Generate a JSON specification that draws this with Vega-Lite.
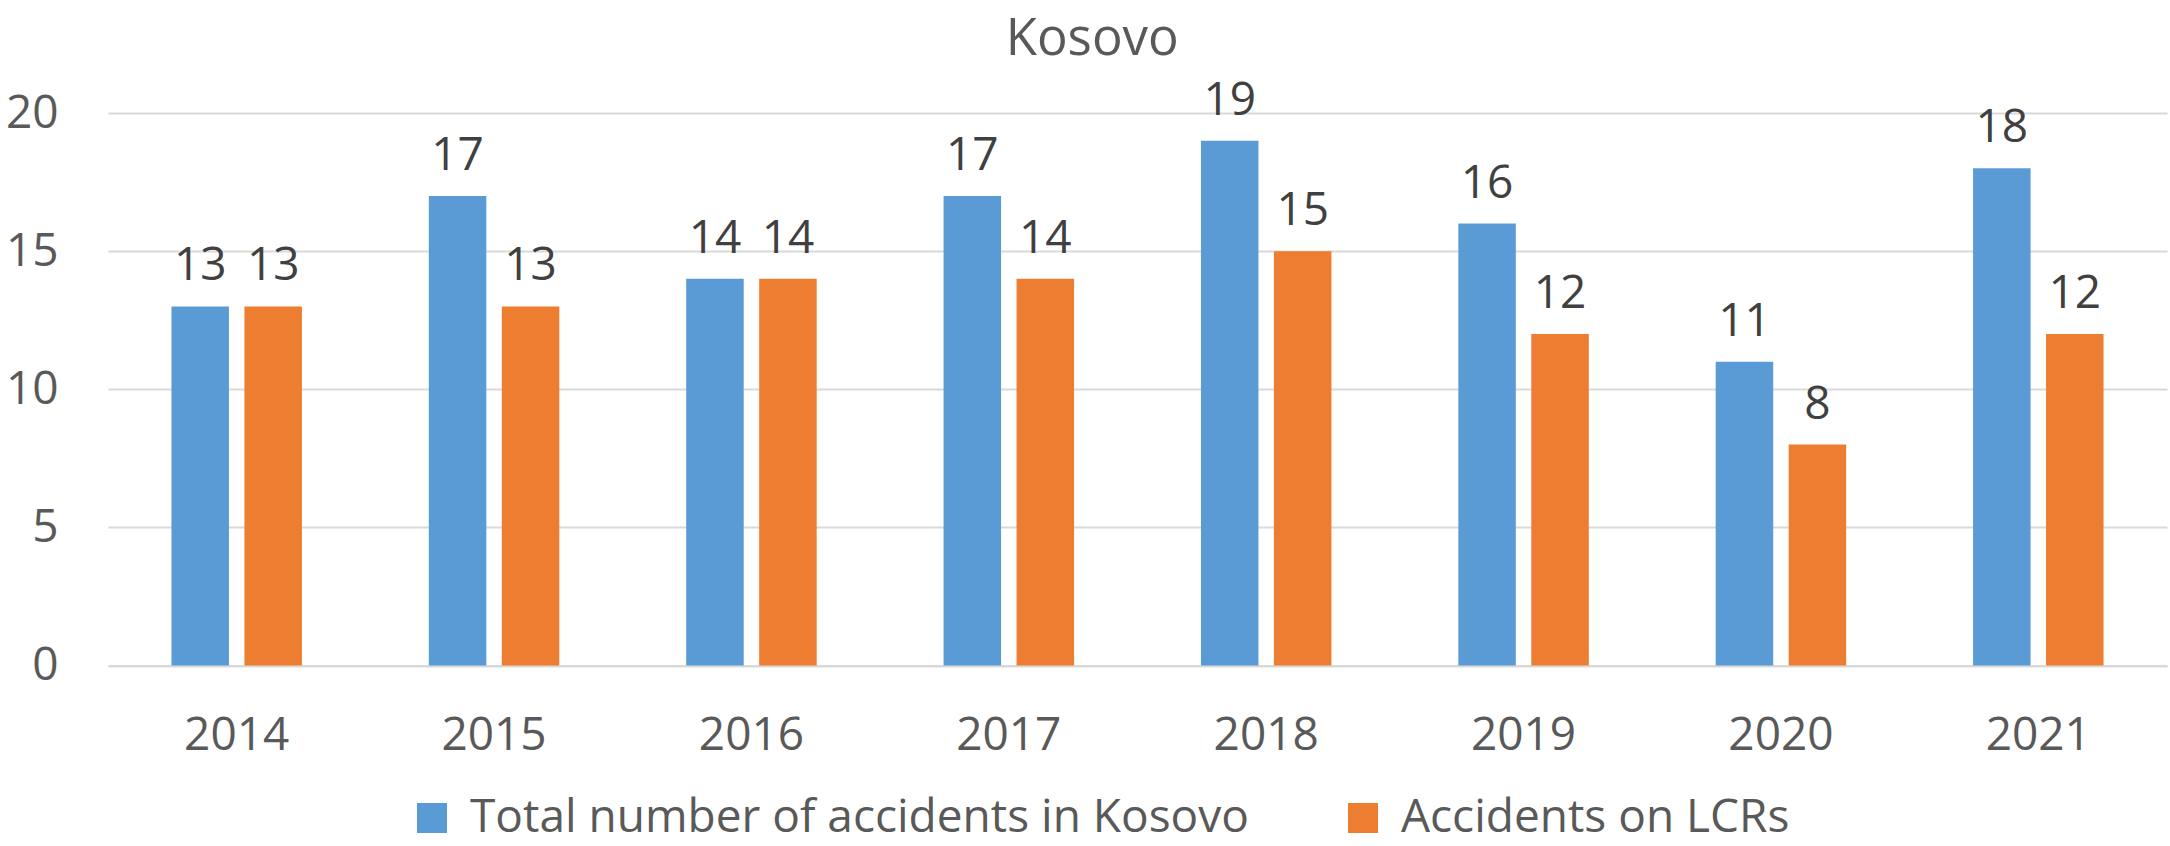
{
  "$schema": "https://vega.github.io/schema/vega-lite/v6.json",
  "width": 2059,
  "height": 552.6,
  "autosize": {"type": "none"},
  "padding": {"left": 108, "top": 113, "right": 3, "bottom": 180.4},
  "background": "white",
  "title": {
    "text": "Kosovo",
    "font": "Open Sans",
    "fontSize": 51,
    "fontWeight": "normal",
    "color": "#595959",
    "anchor": "middle",
    "frame": "bounds",
    "dy": -8,
    "dx": 6
  },
  "data": {
    "values": [
      {"year": "2014", "series": "Total number of accidents in Kosovo", "value": 13},
      {"year": "2014", "series": "Accidents on LCRs", "value": 13},
      {"year": "2015", "series": "Total number of accidents in Kosovo", "value": 17},
      {"year": "2015", "series": "Accidents on LCRs", "value": 13},
      {"year": "2016", "series": "Total number of accidents in Kosovo", "value": 14},
      {"year": "2016", "series": "Accidents on LCRs", "value": 14},
      {"year": "2017", "series": "Total number of accidents in Kosovo", "value": 17},
      {"year": "2017", "series": "Accidents on LCRs", "value": 14},
      {"year": "2018", "series": "Total number of accidents in Kosovo", "value": 19},
      {"year": "2018", "series": "Accidents on LCRs", "value": 15},
      {"year": "2019", "series": "Total number of accidents in Kosovo", "value": 16},
      {"year": "2019", "series": "Accidents on LCRs", "value": 12},
      {"year": "2020", "series": "Total number of accidents in Kosovo", "value": 11},
      {"year": "2020", "series": "Accidents on LCRs", "value": 8},
      {"year": "2021", "series": "Total number of accidents in Kosovo", "value": 18},
      {"year": "2021", "series": "Accidents on LCRs", "value": 12}
    ]
  },
  "encoding": {
    "x": {
      "field": "year",
      "type": "nominal",
      "scale": {"paddingInner": 0.493, "paddingOuter": 0.2465},
      "axis": {
        "title": null,
        "labelAngle": 0,
        "ticks": false,
        "domain": true,
        "domainColor": "#D9D9D9",
        "domainWidth": 2,
        "grid": false,
        "labelPadding": 48,
        "labelFont": "Open Sans",
        "labelFontSize": 46,
        "labelColor": "#595959"
      }
    },
    "xOffset": {
      "field": "series",
      "type": "nominal",
      "scale": {
        "domain": ["Total number of accidents in Kosovo", "Accidents on LCRs"],
        "paddingInner": 0.212,
        "paddingOuter": 0
      }
    },
    "y": {
      "field": "value",
      "type": "quantitative",
      "scale": {"domain": [0, 20], "nice": false},
      "axis": {
        "title": null,
        "values": [0, 5, 10, 15, 20],
        "grid": true,
        "gridColor": "#D9D9D9",
        "gridWidth": 2,
        "domain": false,
        "ticks": false,
        "labelPadding": 50,
        "labelFont": "Open Sans",
        "labelFontSize": 46,
        "labelColor": "#595959"
      }
    }
  },
  "layer": [
    {
      "mark": {"type": "bar"},
      "encoding": {
        "color": {
          "field": "series",
          "type": "nominal",
          "scale": {
            "domain": ["Total number of accidents in Kosovo", "Accidents on LCRs"],
            "range": ["#5B9BD5", "#ED7D31"]
          },
          "legend": {
            "orient": "none",
            "legendX": 301,
            "legendY": 682,
            "direction": "horizontal",
            "title": null,
            "symbolType": "square",
            "symbolSize": 900,
            "symbolStrokeWidth": 0,
            "symbolOpacity": 1,
            "labelFont": "Open Sans",
            "labelFontSize": 46,
            "labelColor": "#595959",
            "labelOffset": 15,
            "columnPadding": 91,
            "labelLimit": 1000
          }
        }
      }
    },
    {
      "mark": {
        "type": "text",
        "baseline": "alphabetic",
        "dy": -26,
        "font": "Open Sans",
        "fontSize": 46,
        "color": "#404040"
      },
      "encoding": {"text": {"field": "value", "type": "quantitative"}}
    }
  ],
  "config": {"view": {"stroke": null}}
}
